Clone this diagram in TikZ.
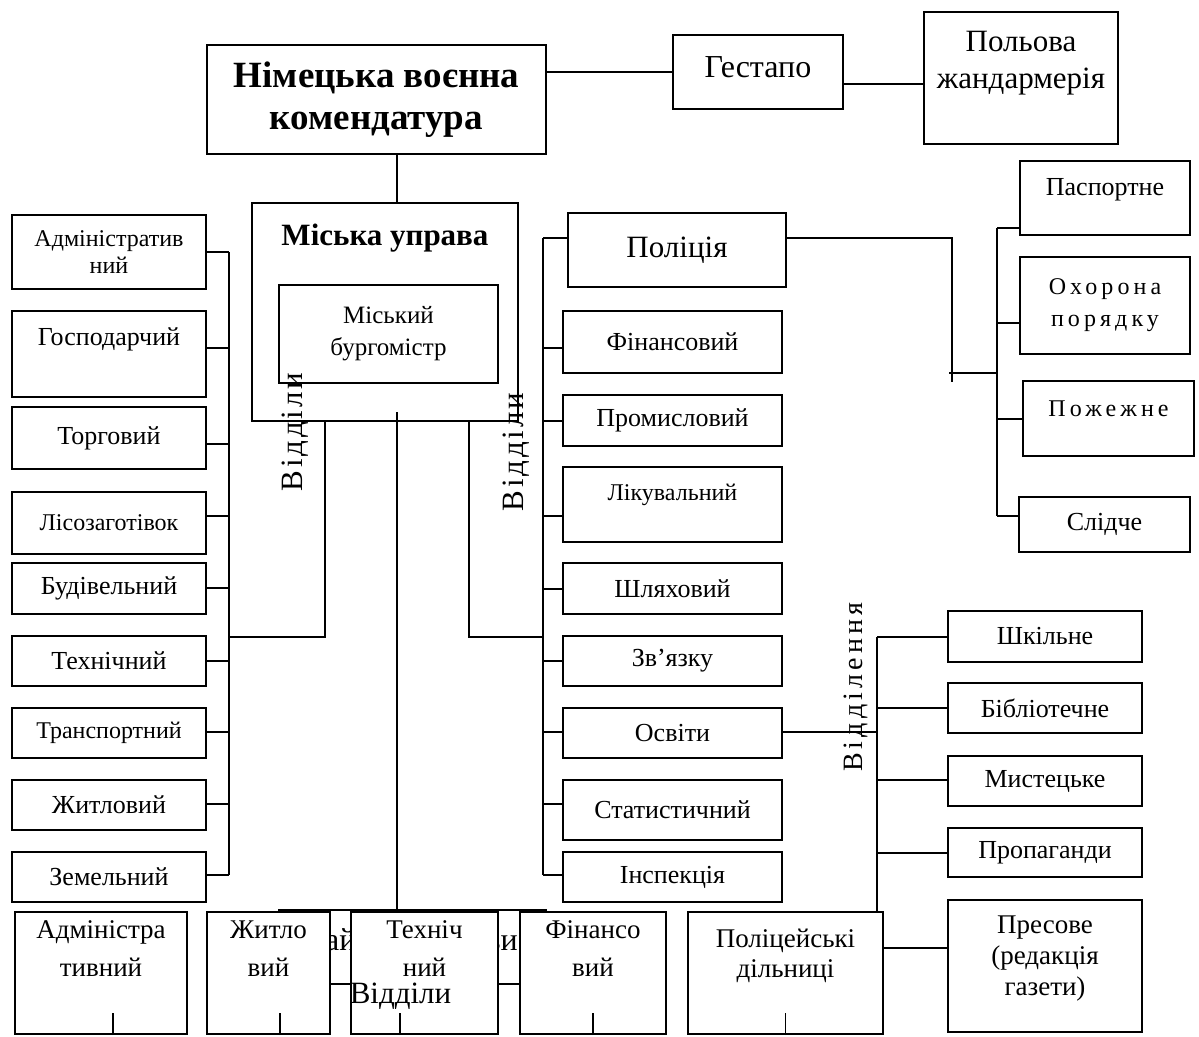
\documentclass[tikz,border=0pt]{standalone}
\usepackage{fontspec}
\setmainfont{Liberation Serif}
\usepackage{tikz}
\usetikzlibrary{positioning,calc}
\tikzset{
	box/.style={draw, line width=2.2pt, fill=white, inner sep=1pt, align=center},
	wh/.style 2 args={minimum width=#1, minimum height=#2},
	lift/.style={text depth=#1},
	toptext/.style={inner sep=0pt, align=center},
	edge/.style={color=black, line width=1.8pt},
	headfont/.style={font=\bfseries\fontsize{37}{42}\selectfont},
	bigfont/.style={font=\fontsize{31}{37}\selectfont},
	deptfont/.style={font=\fontsize{26}{30}\selectfont},
	smallfont/.style={font=\fontsize{24}{27}\selectfont},
	spacedfont/.style={font=\fontsize{24}{32}\selectfont\addfontfeatures{LetterSpace=17}},
	botfont/.style={font=\fontsize{27}{38}\selectfont},
	sidelabel/.style={rotate=90, inner sep=0pt, font=\fontsize{31}{36}\selectfont\addfontfeatures{LetterSpace=9}}
}
\begin{document}
\begin{tikzpicture}[x=1pt, y=-1pt]
\useasboundingbox (0,0) rectangle (1199,1036);

% command level
\node[box, headfont, wh={339}{109}] (kom) at (376.5,99.5) {Німецька воєнна\\комендатура};
\node[box, font=\fontsize{32}{37}\selectfont, wh={170}{74}, lift=10.5pt] (gest) at (758,72) {Гестапо};
\node[box, wh={194}{132}] (polv) at (1021,78) {};
\node[toptext, bigfont, below=20.5pt of polv.north] (polvt) {Польова\\жандармерія};

\draw[edge] (kom.east |- gest.west) -- (gest.west);
\draw[edge] (gest.east |- 0,84) -- (polv.west |- 0,84);

% city board
\node[box, wh={266}{218}] (mu) at (385,312) {};
\node[toptext, font=\bfseries\fontsize{31}{36}\selectfont, below=21.5pt of mu.north] (mut) {Міська управа};
\node[box, font=\fontsize{25}{32}\selectfont, wh={219}{98}] (bm) at (388.5,334) {Міський\\бургомістр};

\coordinate (cs) at (397,412);
\draw[edge] (kom.south -| cs) -- (mu.north -| cs);

% left departments
\node[box, smallfont, wh={194}{74}] (adm) at (109,252) {Адміністратив\\ний};
\node[box, deptfont, wh={194}{86}, lift=35pt] (gosp) at (109,354) {Господарчий};
\node[box, deptfont, wh={194}{62}] (torg) at (109,438) {Торговий};
\node[box, smallfont, wh={194}{62}] (lis) at (109,523) {Лісозаготівок};
\node[box, deptfont, wh={194}{51}] (bud) at (109,588.5) {Будівельний};
\node[box, deptfont, wh={194}{50}] (tech) at (109,661) {Технічний};
\node[box, smallfont, wh={194}{50}] (trans) at (109,733) {Транспортний};
\node[box, deptfont, wh={194}{50}] (zhyt) at (109,805) {Житловий};
\node[box, deptfont, wh={194}{50}] (zem) at (109,877) {Земельний};

\coordinate (lsp) at (229,252);
\coordinate (lsb) at (229,875);
\coordinate (lj) at (325,637);
\draw[edge] (lsp) -- (lsb);
\draw[edge] (lj |- mu.south) -- (lj) -- (lj -| lsp);
\draw[edge] (adm.east) -- (adm.east -| lsp);
\draw[edge] (gosp.east |- 0,348) -- (lsp |- 0,348);
\draw[edge] (torg.east |- 0,444) -- (lsp |- 0,444);
\draw[edge] (lis.east |- 0,516) -- (lsp |- 0,516);
\draw[edge] (bud.east |- 0,588) -- (lsp |- 0,588);
\draw[edge] (tech.east) -- (tech.east -| lsp);
\draw[edge] (trans.east |- 0,732) -- (lsp |- 0,732);
\draw[edge] (zhyt.east |- 0,804) -- (lsp |- 0,804);
\draw[edge] (lsb) -- (lsb -| zem.east);

% right departments
\node[box, bigfont, wh={218}{74}] (pol) at (677,250) {Поліція};
\node[box, deptfont, wh={219}{62}] (fin) at (672.5,342) {Фінансовий};
\node[box, deptfont, wh={219}{51}] (prom) at (672.5,420.5) {Промисловий};
\node[box, smallfont, wh={219}{75}, lift=25pt] (lik) at (672.5,504.5) {Лікувальний};
\node[box, deptfont, wh={219}{51}] (shl) at (672.5,588.5) {Шляховий};
\node[box, deptfont, wh={219}{50}] (zv) at (672.5,661) {Зв’язку};
\node[box, deptfont, wh={219}{50}] (osv) at (672.5,733) {Освіти};
\node[box, deptfont, wh={219}{60}] (stat) at (672.5,810) {Статистичний};
\node[box, deptfont, wh={219}{50}] (insp) at (672.5,877) {Інспекція};

\coordinate (rst) at (543,238);
\coordinate (rsb) at (543,875);
\coordinate (rj) at (469,637);
\draw[edge] (rst) -- (rsb);
\draw[edge] (rj |- mu.south) -- (rj) -- (rj -| rst);
\draw[edge] (rst) -- (rst -| pol.west);
\draw[edge] (rst |- 0,348) -- (fin.west |- 0,348);
\draw[edge] (rst |- 0,421) -- (prom.west |- 0,421);
\draw[edge] (rst |- 0,516) -- (lik.west |- 0,516);
\draw[edge] (rst |- 0,589) -- (shl.west |- 0,589);
\draw[edge] (zv.west) -- (zv.west -| rst);
\draw[edge] (rst |- 0,732) -- (osv.west |- 0,732);
\draw[edge] (rst |- 0,804) -- (stat.west |- 0,804);
\draw[edge] (rsb) -- (rsb -| insp.west);

% police branches
\node[box, deptfont, wh={170}{74}, lift=23pt] (pasp) at (1105,198) {Паспортне};
\node[box, spacedfont, wh={170}{97}] (okh) at (1105,305.5) {Охорона\\порядку};
\node[box, spacedfont, wh={171}{75}, lift=19pt] (pozh) at (1108.5,418.5) {Пожежне};
\node[box, deptfont, wh={171}{55}] (slid) at (1104.5,524.5) {Слідче};

\coordinate (pj) at (952,238);
\coordinate (pk) at (952,382);
\coordinate (pm0) at (949,373);
\coordinate (pm) at (997,373);
\coordinate (pst) at (997,228);
\coordinate (psb) at (997,516);
\draw[edge] (pol.east |- pj) -- (pj) -- (pk);
\draw[edge] (pm0) -- (pm);
\draw[edge] (pst) -- (psb);
\draw[edge] (pst) -- (pst -| pasp.west);
\draw[edge] (pst |- 0,323) -- (okh.west |- 0,323);
\draw[edge] (pst |- 0,419) -- (pozh.west |- 0,419);
\draw[edge] (psb) -- (psb -| slid.west);

% education sections
\node[box, deptfont, wh={194}{51}] (shk) at (1045,636.5) {Шкільне};
\node[box, deptfont, wh={194}{50}] (bib) at (1045,708) {Бібліотечне};
\node[box, deptfont, wh={194}{50}] (myst) at (1045,781) {Мистецьке};
\node[box, deptfont, wh={194}{49}] (prop) at (1045,852.5) {Пропаганди};
\node[box, wh={194}{132}] (pres) at (1045,966) {};
\node[toptext, font=\fontsize{27}{31}\selectfont, below=17pt of pres.north] (prest) {Пресове\\(редакція\\газети)};

\coordinate (et) at (877,637);
\coordinate (eb) at (877,911);
\draw[edge] (et) -- (eb);
\draw[edge] (osv.east |- 0,732) -- (et |- 0,732);
\draw[edge] (et) -- (shk.west |- et);
\draw[edge] (bib.west) -- (bib.west -| et);
\draw[edge] (et |- 0,780) -- (myst.west |- 0,780);
\draw[edge] (et |- 0,853) -- (prop.west |- 0,853);

% district level, mostly covered by the boxes below
\node[box, wh={267}{74}] (rup) at (412.5,947) {};
\node[inner sep=0pt, anchor=base west, font=\fontsize{32}{36}\selectfont] (rupa) at (325,950) {ай};
\node[inner sep=0pt, anchor=base east, font=\fontsize{32}{36}\selectfont] (rupb) at (518,950) {ви};
\draw[edge] (cs) -- (rup.north -| cs);

\node[box, wh={172}{122}] (badm) at (101,973) {};
\node[box, wh={123}{122}] (bzhyt) at (268.5,973) {};
\node[box, wh={147}{122}] (btech) at (424.5,973) {};
\node[box, wh={146}{122}] (bfin) at (593,973) {};
\node[box, wh={195}{122}] (pdil) at (785.5,973) {};
\node[toptext, botfont, below=10pt of badm.north] (badmt) {Адміністра\\тивний};
\node[toptext, botfont, below=10pt of bzhyt.north] (bzhytt) {Житло\\вий};
\node[toptext, botfont, below=10pt of btech.north] (btecht) {Техніч\\ний};
\node[toptext, botfont, below=10pt of bfin.north] (bfint) {Фінансо\\вий};
\node[toptext, font=\fontsize{27}{30}\selectfont, below=18pt of pdil.north] (pdilt) {Поліцейські\\дільниці};

\draw[edge] (pdil.east |- 0,948) -- (pres.west |- 0,948);
\draw[edge] (badm.south -| 113,0) -- ++(0,-22);
\draw[edge] (bzhyt.south -| 280,0) -- ++(0,-22);
\draw[edge] (btech.south -| 400,0) -- ++(0,-22);
\draw[edge] (bfin.south) -- ++(0,-22);
\draw[edge] (pdil.south) -- ++(0,-22);

% side labels
\node[sidelabel] (vl) at (295,432) {Відділи};
\node[sidelabel] (vr) at (516,452) {Відділи};
\node[sidelabel, font=\fontsize{28}{32}\selectfont\addfontfeatures{LetterSpace=15}] (vn) at (856,687) {Відділення};
\node[inner sep=0pt, anchor=base, font=\fontsize{31}{36}\selectfont] (vb) at (400.5,1003) {Відділи};
\end{tikzpicture}
\end{document}
